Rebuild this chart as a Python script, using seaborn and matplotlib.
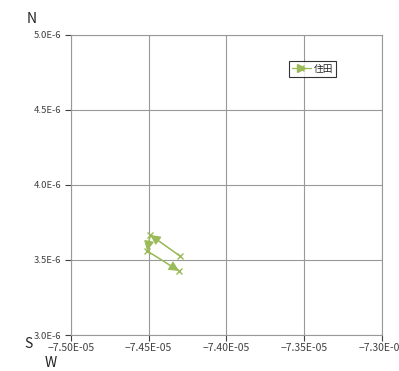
import numpy as np
import pandas as pd
import seaborn as sns
import matplotlib.pyplot as plt
from matplotlib.ticker import FuncFormatter
from matplotlib.lines import Line2D

# track points in visiting order
lon = [-7.430e-05, -7.449e-05, -7.451e-05, -7.4305e-05]
lat = [3.527e-06, 3.667e-06, 3.560e-06, 3.427e-06]
series_name = '住田'
xticks = [-7.50e-05, -7.45e-05, -7.40e-05, -7.35e-05, -7.30e-05]
yticks = [3.0e-06, 3.5e-06, 4.0e-06, 4.5e-06, 5.0e-06]


def main():
	sns.set_style('white')
	plt.rcParams['font.family'] = ['Noto Sans CJK JP', 'DejaVu Sans']
	color = '#9bbb59'

	df = pd.DataFrame({'x': lon, 'y': lat})

	fig = plt.figure(figsize=(3.99, 3.71), dpi=100)
	ax = fig.add_axes([0.178, 0.097, 0.779, 0.809])

	sns.lineplot(data=df, x='x', y='y', sort=False, color=color, lw=0.9,
		marker='x', markersize=5, mew=1, mec=color, ax=ax, legend=False)

	# arrowheads on each segment
	for i in range(len(lon) - 1):
		ax.annotate('', xy=(lon[i + 1], lat[i + 1]), xytext=(lon[i], lat[i]),
			arrowprops=dict(arrowstyle='-|>', color=color, lw=0.9,
				mutation_scale=15, shrinkA=0, shrinkB=0))

	ax.set_xlim(xticks[0], xticks[-1])
	ax.set_ylim(yticks[0], yticks[-1])
	ax.set_xticks(xticks)
	ax.set_yticks(yticks)
	ax.xaxis.set_major_formatter(FuncFormatter(lambda v, p: '\u2212%.2fE-05' % abs(v * 1e5)))
	ax.yaxis.set_major_formatter(FuncFormatter(lambda v, p: '%.1fE-6' % (v * 1e6)))
	ax.tick_params(axis='both', colors='#404040', length=4, width=0.8,
		direction='out', left=True, bottom=True)
	ax.tick_params(axis='x', labelsize=7.5, pad=2)
	ax.tick_params(axis='y', labelsize=6.8, pad=3)
	ax.grid(True, color='#999999', lw=0.8)
	for s in ax.spines.values():
		s.set_color('#999999')
	ax.set_xlabel('')
	ax.set_ylabel('')

	handle = (Line2D([], [], color=color, lw=0.9, marker='x', markersize=5, mec=color),
		Line2D([], [], color=color, lw=0, marker='>', markersize=6, markevery=[0]))
	leg = ax.legend([handle], [series_name], loc='upper left', bbox_to_anchor=(0.685, 0.93),
		fontsize=7, frameon=True, fancybox=False, edgecolor='black', handlelength=2,
		borderpad=0.3, handletextpad=0.3)
	leg.get_frame().set_linewidth(0.8)

	fig.text(32 / 399, 1 - 19 / 371, 'N', fontsize=10, ha='center', va='center', color='#222222')
	fig.text(28 / 399, 1 - 344 / 371, 'S', fontsize=10, ha='center', va='center', color='#222222')
	fig.text(51 / 399, 1 - 363 / 371, 'W', fontsize=10, ha='center', va='center', color='#222222')

	plt.savefig('out.png', dpi=100)


if __name__ == '__main__':
	main()
